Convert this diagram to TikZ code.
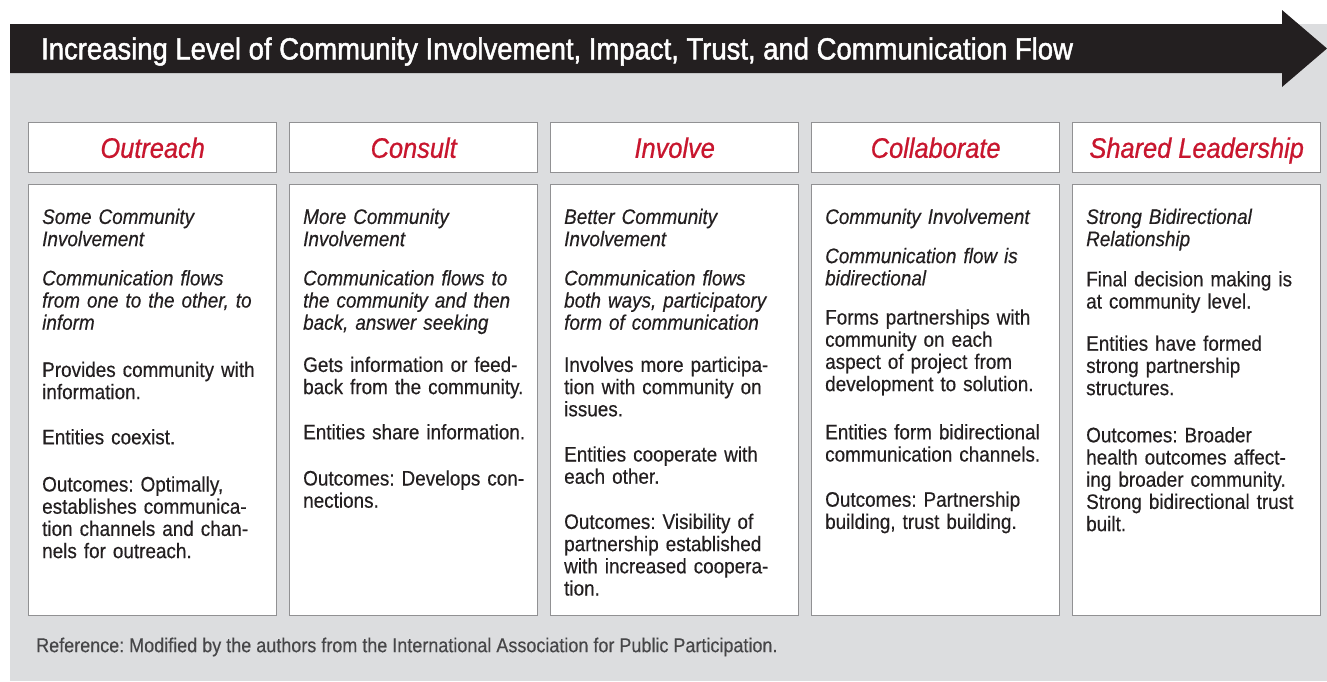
\documentclass[tikz,border=0pt]{standalone}
\usepackage{fontspec}
\setmainfont{Liberation Sans}[FakeStretch=0.9, FakeBold=0.35]
\newfontfamily\titlefont{Liberation Sans}[FakeStretch=0.9, FakeBold=1.6]
\newfontfamily\headfont{Liberation Sans}[FakeStretch=0.9, FakeBold=0.7]
\usetikzlibrary{positioning}
\frenchspacing
\definecolor{barblack}{RGB}{35,31,32}
\definecolor{panelgray}{RGB}{220,221,223}
\definecolor{framegray}{RGB}{145,145,147}
\definecolor{headred}{RGB}{200,22,46}
\definecolor{textdark}{RGB}{35,31,32}
\definecolor{refgray}{RGB}{70,70,72}
\tikzset{
  headbox/.style={draw=framegray, line width=1.4pt, fill=white, anchor=north west,
    minimum width=248pt, minimum height=50pt, inner sep=0pt, text=headred,
    font=\headfont\fontsize{28.2}{30}\selectfont\itshape, text height=20.2pt, text depth=0pt},
  bodybox/.style={draw=framegray, line width=1.4pt, fill=white, anchor=north west,
    minimum width=248pt, minimum height=431pt, inner sep=0pt},
  bodytext/.style={anchor=north west, inner sep=0pt, align=left, text width=228pt,
    text=textdark, font=\fontsize{21}{22.2}\selectfont, xshift=14pt, yshift=-24.5pt},
}
\begin{document}
\begin{tikzpicture}[x=1pt, y=-1pt]
\useasboundingbox (0,0) rectangle (1327,681);
\fill[panelgray] (10,24) rectangle (1327,681);
\fill[barblack] (10,24) -- (1282,24) -- (1282,10) -- (1327,48.5) -- (1282,87) -- (1282,73) -- (10,73) -- cycle;
\node[anchor=west, inner sep=0pt, text=white, font=\titlefont\fontsize{30.5}{32}\selectfont,
  text height=21.8pt, text depth=0pt] (title) at (41,48.5)
  {Increasing Level of Community Involvement, Impact, Trust, and Communication Flow};

% level headers
\node[headbox] (h1) at (28,122) {Outreach};
\node[headbox] (h2) at (289,122) {Consult};
\node[headbox] (h3) at (550,122) {Involve};
\node[headbox] (h4) at (811,122) {Collaborate};
\node[headbox] (h5) at (1072,122) {Shared Leadership};

% level descriptions
\node[bodybox] (b1) at (28,184) {};
\node[bodybox] (b2) at (289,184) {};
\node[bodybox] (b3) at (550,184) {};
\node[bodybox] (b4) at (811,184) {};
\node[bodybox] (b5) at (1072,184) {};

\node[bodytext] (t1) at (b1.north west) {\textit{Some Community}\\ \textit{Involvement}\\[17pt]
  \textit{Communication flows}\\ \textit{from one to the other, to}\\ \textit{inform}\\[25pt]
  Provides community with\\ information.\\[23pt]
  Entities coexist.\\[25pt]
  Outcomes: Optimally,\\ establishes communica-\\ tion channels and chan-\\ nels for outreach.};
\node[bodytext] (t2) at (b2.north west) {\textit{More Community}\\ \textit{Involvement}\\[17pt]
  \textit{Communication flows to}\\ \textit{the community and then}\\ \textit{back, answer seeking}\\[20pt]
  Gets information or feed-\\ back from the community.\\[23pt]
  Entities share information.\\[24pt]
  Outcomes: Develops con-\\ nections.};
\node[bodytext] (t3) at (b3.north west) {\textit{Better Community}\\ \textit{Involvement}\\[17pt]
  \textit{Communication flows}\\ \textit{both ways, participatory}\\ \textit{form of communication}\\[20pt]
  Involves more participa-\\ tion with community on\\ issues.\\[23pt]
  Entities cooperate with\\ each other.\\[23pt]
  Outcomes: Visibility of\\ partnership established\\ with increased coopera-\\ tion.};
\node[bodytext] (t4) at (b4.north west) {\textit{Community Involvement}\\[17pt]
  \textit{Communication flow is}\\ \textit{bidirectional}\\[17pt]
  Forms partnerships with\\ community on each\\ aspect of project from\\ development to solution.\\[26pt]
  Entities form bidirectional\\ communication channels.\\[23pt]
  Outcomes: Partnership\\ building, trust building.};
\node[bodytext] (t5) at (b5.north west) {\textit{Strong Bidirectional}\\ \textit{Relationship}\\[18pt]
  Final decision making is\\ at community level.\\[20pt]
  Entities have formed\\ strong partnership\\ structures.\\[25pt]
  Outcomes: Broader\\ health outcomes affect-\\ ing broader community.\\ Strong bidirectional trust\\ built.};

\node[anchor=west, inner sep=0pt, text=refgray, font=\fontsize{20}{22}\selectfont,
  text height=14.3pt, text depth=0pt] (ref) at (36,645)
  {Reference: Modified by the authors from the International Association for Public Participation.};
\end{tikzpicture}
\end{document}
